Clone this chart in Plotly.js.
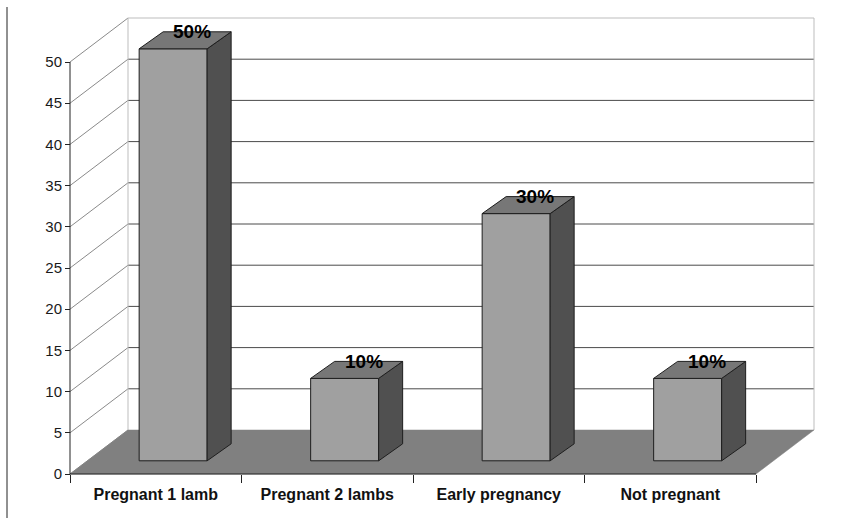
<!DOCTYPE html>
<html>
<head>
<meta charset="utf-8">
<script src="https://cdn.plot.ly/plotly-3.0.1.min.js"></script>
<style>
  html, body { margin: 0; padding: 0; background: #fff; }
  #chart { width: 842px; height: 518px; }
</style>
</head>
<body>
<div id="chart"></div>
<script>
// ---- data ----
var categories = ["Pregnant 1 lamb", "Pregnant 2 lambs", "Early pregnancy", "Not pregnant"];
var values = [50, 10, 30, 10];
var valueLabels = ["50%", "10%", "30%", "10%"];
var yTicks = [0, 5, 10, 15, 20, 25, 30, 35, 40, 45, 50];

// ---- geometry (pixels -> data units) ----
var W = 842, H = 518;
var Ux = 171.5;            // px per category
var Uy = 8.24;             // px per value unit
var ox = 70, oy = 474;     // pixel position of (0,0)
var plotL = 60, plotR = 822, plotT = 10, plotB = 484;
var xr = [(plotL - ox) / Ux, (plotR - ox) / Ux];
var yr = [(oy - plotB) / Uy, (oy - plotT) / Uy];
var n = categories.length;
var yMax = 50;

var D = 58 / Ux;           // depth offset of back wall, x units
var Dy = 44 / Uy;          // depth offset of back wall, y units
var f1 = 0.3;              // bar front depth fraction
var hw = 34 / Ux;          // half width of bar front
var bdx = 24 / Ux, bdy = 17 / Uy;  // bar depth

var traces = [];
function line(xs, ys, color, width) {
  traces.push({type: 'scatter', mode: 'lines', x: xs, y: ys, hoverinfo: 'skip',
    line: {color: color, width: width}, showlegend: false});
}
function poly(xs, ys, fill, lineColor, lw) {
  traces.push({type: 'scatter', mode: 'lines', x: xs.concat([xs[0]]), y: ys.concat([ys[0]]),
    fill: 'toself', fillcolor: fill, hoverinfo: 'skip',
    line: {color: lineColor, width: lw}, showlegend: false});
}

// back wall horizontal gridlines
var gx = [], gy = [];
yTicks.forEach(function (v) {
  if (v > 0 && v < yMax) { gx.push(D, n + D, null); gy.push(v + Dy, v + Dy, null); }
});
line(gx, gy, '#4a4a4a', 1);
// side wall diagonals
var dx = [], dyy = [];
yTicks.forEach(function (v) { dx.push(0, D, null); dyy.push(v, v + Dy, null); });
line(dx, dyy, '#8a8a8a', 1);
// wall frame (light)
line([D, D, n + D, n + D], [Dy, yMax + Dy, yMax + Dy, Dy], '#bdbdbd', 1);

// floor
poly([0, D, n + D, n], [0, Dy, Dy, 0], '#808080', '#808080', 0.5);

// axis lines
line([0, 0], [0, yMax], '#222', 1);
line([0, n], [0, 0], '#222', 1);

// bars
var ann = [];
values.forEach(function (v, i) {
  var cx = i + 0.5 + f1 * D;
  var xl = cx - hw, xrr = cx + hw;
  var y0 = f1 * Dy, y1 = f1 * Dy + v;
  poly([xl, xrr, xrr, xl], [y0, y0, y1, y1], '#a0a0a0', '#1e1e1e', 1);
  poly([xrr, xrr + bdx, xrr + bdx, xrr], [y0, y0 + bdy, y1 + bdy, y1], '#505050', '#1e1e1e', 1);
  poly([xl, xrr, xrr + bdx, xl + bdx], [y1, y1, y1 + bdy, y1 + bdy], '#777777', '#1e1e1e', 1);
  ann.push({x: cx + 19 / Ux, y: y1 + bdy, text: '<b>' + valueLabels[i] + '</b>', showarrow: false,
    xanchor: 'center', yanchor: 'middle',
    font: {family: 'Liberation Sans, Arial, sans-serif', size: 19, color: '#000'}});
});

var pw = plotR - plotL, ph = plotB - plotT;
var centers = categories.map(function (c, i) { return i + 0.5; });
var edges = []; for (var k = 0; k <= n; k++) edges.push(k);

var layout = {
  width: W, height: H,
  margin: {l: plotL, r: W - plotR, t: plotT, b: H - plotB, pad: 0},
  paper_bgcolor: '#fff', plot_bgcolor: 'rgba(0,0,0,0)',
  showlegend: false,
  font: {family: 'Liberation Sans, Arial, sans-serif', color: '#222'},
  xaxis: {range: xr, anchor: 'free', position: (plotB - oy) / ph,
    tickmode: 'array', tickvals: centers, ticktext: categories,
    ticks: '', showline: false, showgrid: false, zeroline: false,
    tickfont: {size: 16, color: '#111', weight: 'bold', family: 'Liberation Sans, Arial, sans-serif'},
    ticklabelstandoff: 9, fixedrange: true},
  xaxis2: {range: xr, overlaying: 'x', anchor: 'free', position: (plotB - oy) / ph,
    tickmode: 'array', tickvals: edges, ticks: 'outside', ticklen: 8, tickcolor: '#222',
    showticklabels: false, showline: false, showgrid: false, zeroline: false, fixedrange: true},
  yaxis: {range: yr, anchor: 'free', position: (ox - plotL) / pw,
    tickmode: 'array', tickvals: yTicks, ticks: 'outside', ticklen: 5, tickcolor: '#222',
    showline: false, showgrid: false, zeroline: false,
    tickfont: {size: 15, color: '#1a1a1a'}, fixedrange: true},
  annotations: ann,
  shapes: [{type: 'line', xref: 'paper', yref: 'paper',
    x0: (7 - plotL) / pw, x1: (7 - plotL) / pw,
    y0: (plotB - 518) / ph, y1: (plotB - 7) / ph,
    line: {color: '#222', width: 1}}]
};

// a dummy invisible trace on xaxis2 so the axis is drawn
traces.push({type: 'scatter', mode: 'lines', x: [0, 1], y: [0, 0], xaxis: 'x2',
  line: {color: 'rgba(0,0,0,0)', width: 0}, hoverinfo: 'skip', showlegend: false});

Plotly.newPlot('chart', traces, layout, {displayModeBar: false, staticPlot: true});
</script>
</body>
</html>
